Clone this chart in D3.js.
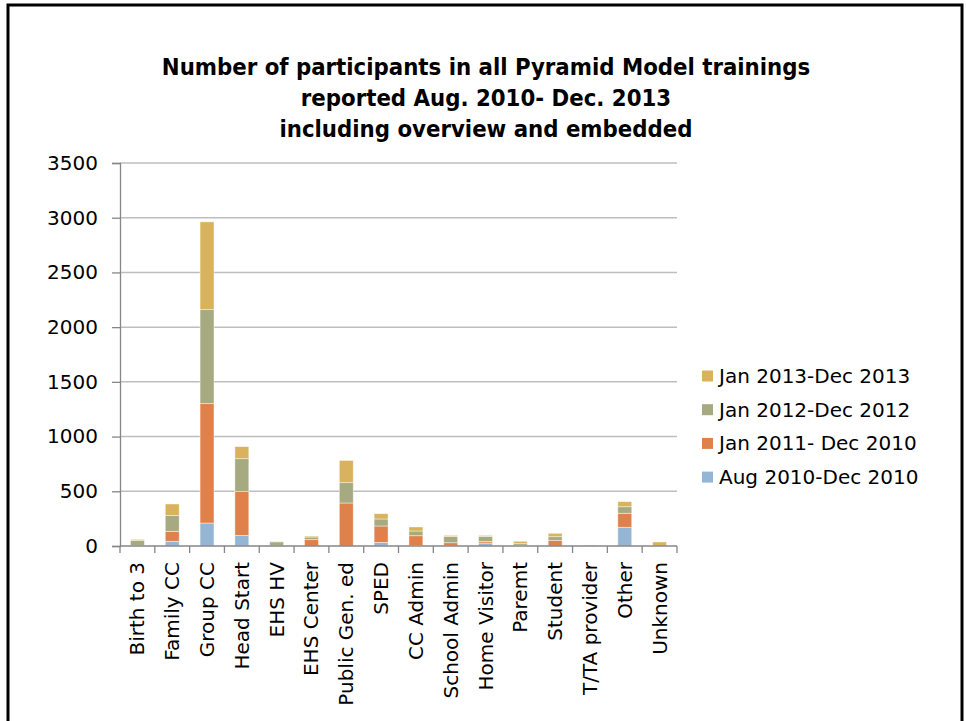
<!DOCTYPE html>
<html>
<head>
<meta charset="utf-8">
<script src="https://cdn.jsdelivr.net/npm/d3@7"></script>
<style>
  html, body { margin: 0; padding: 0; background: #fff; }
  svg { display: block; }
  .tick-label, .legend-label, .cat-label { font-family: 'DejaVu Sans', sans-serif; font-size: 20px; fill: #000; }
  .title { font-family: 'DejaVu Sans Condensed', 'DejaVu Sans', sans-serif; font-stretch: condensed; font-weight: bold; font-size: 23.7px; fill: #000; }
</style>
</head>
<body>
<svg id="chart" width="966" height="721"></svg>
<script>
const categories = ["Birth to 3", "Family CC", "Group CC", "Head Start", "EHS HV", "EHS Center",
  "Public Gen. ed", "SPED", "CC Admin", "School Admin", "Home Visitor", "Parent", "Student",
  "T/TA provider", "Other", "Unknown"];
const displayLabels = ["Birth to 3", "Family CC", "Group CC", "Head Start", "EHS HV", "EHS Center",
  "Public Gen. ed", "SPED", "CC Admin", "School Admin", "Home Visitor", "Paremt", "Student",
  "T/TA provider", "Other", "Unknown"];
const seriesNames = ["Aug 2010-Dec 2010", "Jan 2011- Dec 2010", "Jan 2012-Dec 2012", "Jan 2013-Dec 2013"];
const aug2010 = [0, 43, 210, 97, 0, 0, 0, 33, 5, 2, 27, 2, 0, 0, 171, 0];
const jan2011 = [5, 91, 1091, 400, 3, 58, 393, 150, 89, 28, 13, 3, 52, 0, 128, 0];
const jan2012 = [45, 146, 859, 301, 35, 24, 186, 64, 43, 58, 48, 16, 33, 0, 60, 0];
const jan2013 = [10, 104, 802, 110, 2, 9, 203, 48, 37, 9, 9, 22, 31, 6, 46, 37];
const yTicks = [0, 500, 1000, 1500, 2000, 2500, 3000, 3500];
const titleLines = ["Number of participants in all Pyramid Model trainings",
  "reported Aug. 2010- Dec. 2013", "including overview and embedded"];
const colors = ["#94B6D4", "#E0804A", "#A5AA80", "#D8B25C"];

const svg = d3.select("#chart");

// outer frame
svg.append("rect").attr("x", 8).attr("y", 5).attr("width", 954).attr("height", 740)
  .attr("fill", "none").attr("stroke", "#000").attr("stroke-width", 3);

const rows = categories.map((c, i) => ({
  cat: c,
  [seriesNames[0]]: aug2010[i],
  [seriesNames[1]]: jan2011[i],
  [seriesNames[2]]: jan2012[i],
  [seriesNames[3]]: jan2013[i]
}));

const x = d3.scaleBand().domain(categories).range([120, 677]).paddingInner(0.6).paddingOuter(0.3);
const y = d3.scaleLinear().domain([0, 3500]).range([546, 163]);

// gridlines
svg.append("g").selectAll("line").data(yTicks.filter(t => t > 0)).join("line")
  .attr("x1", 120).attr("x2", 677)
  .attr("y1", d => y(d)).attr("y2", d => y(d))
  .attr("stroke", "#BEBEBE").attr("stroke-width", 1.5);

// y axis
const yAxis = svg.append("g").attr("transform", "translate(120,0)")
  .call(d3.axisLeft(y).tickValues(yTicks).tickSize(8).tickPadding(14).tickFormat(d3.format("d")));
yAxis.select(".domain").attr("stroke", "#868686").attr("stroke-width", 1.3);
yAxis.selectAll(".tick line").attr("stroke", "#868686").attr("stroke-width", 1.3);
yAxis.selectAll(".tick text").attr("class", "tick-label").attr("font-size", null).attr("font-family", null);
yAxis.attr("font-size", null).attr("font-family", null);

// stacked bars
const stack = d3.stack().keys(seriesNames);
const stacked = stack(rows);
svg.append("g").selectAll("g").data(stacked).join("g")
  .attr("fill", (d, i) => colors[i])
  .selectAll("rect").data(d => d).join("rect")
  .attr("x", d => x(d.data.cat))
  .attr("width", x.bandwidth())
  .attr("y", d => y(d[1]))
  .attr("height", d => Math.max(0, y(d[0]) - y(d[1])))
  .attr("stroke", "rgba(255,255,255,0.55)").attr("stroke-width", 0.8);

// x axis
const xAxisG = svg.append("g");
xAxisG.append("line").attr("x1", 120).attr("x2", 677).attr("y1", 546).attr("y2", 546)
  .attr("stroke", "#868686").attr("stroke-width", 1.3);
const bounds = d3.range(categories.length + 1).map(i => x.range()[0] + i * x.step());
xAxisG.selectAll("line.tk").data(bounds).join("line").attr("class", "tk")
  .attr("x1", d => d).attr("x2", d => d).attr("y1", 546).attr("y2", 553)
  .attr("stroke", "#868686").attr("stroke-width", 1.3);
xAxisG.selectAll("text").data(categories).join("text")
  .attr("class", "cat-label")
  .attr("transform", d => `translate(${x(d) + x.bandwidth() / 2},562) rotate(-90)`)
  .attr("text-anchor", "end").attr("dy", "0.35em")
  .text((d, i) => displayLabels[i]);

// title
svg.append("text").attr("class", "title").attr("text-anchor", "middle")
  .selectAll("tspan").data(titleLines).join("tspan")
  .attr("x", 486).attr("y", (d, i) => 75 + i * 31).text(d => d);

// legend
const legendOrder = [3, 2, 1, 0];
const lg = svg.append("g").selectAll("g").data(legendOrder).join("g")
  .attr("transform", (d, i) => `translate(702,${376 + i * 33.7})`);
lg.append("rect").attr("x", 0).attr("y", -5.5).attr("width", 11).attr("height", 11)
  .attr("fill", d => colors[d]);
lg.append("text").attr("class", "legend-label").attr("x", 17).attr("dy", "0.35em")
  .text(d => seriesNames[d]);
</script>
</body>
</html>
